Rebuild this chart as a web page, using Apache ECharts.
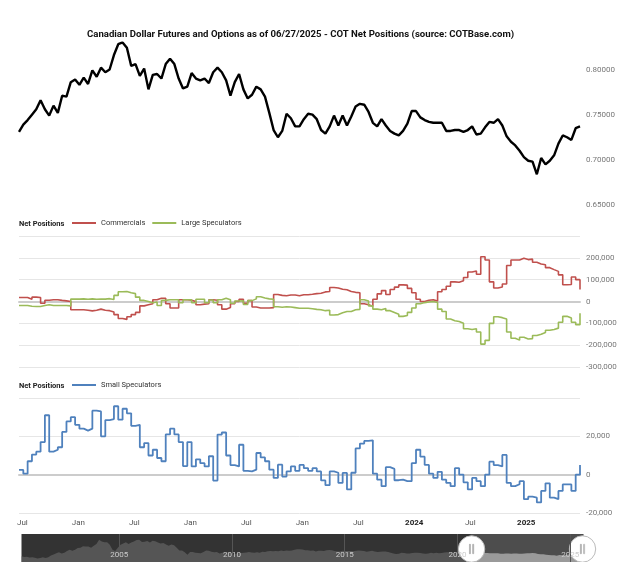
<!DOCTYPE html>
<html>
<head>
<meta charset="utf-8">
<script src="https://cdn.jsdelivr.net/npm/echarts@6/dist/echarts.min.js"></script>
<style>
  html, body { margin: 0; padding: 0; background: #fff; }
  #chart { width: 625px; height: 562px; }
</style>
</head>
<body>
<div id="chart"></div>
<script>
const FONT = '"Liberation Sans Narrow", Roboto, sans-serif';

// COT window (decimal years): first and last report shown
const startYear = 2020.47;
const endYear = 2025.48;
// navigator starts here
const navStart = 2000.55;

// quarterly CAD futures history for the navigator, from 2000.5
const historyStart = 2000.5;
const historyPrice = [
  0.675, 0.660, 0.665, 0.645, 0.655, 0.640, 0.628, 0.635, 0.655, 0.635,
  0.655, 0.690, 0.715, 0.740, 0.765, 0.735, 0.750, 0.790, 0.815, 0.795,
  0.815, 0.855, 0.860, 0.895, 0.890, 0.890, 0.860, 0.905, 0.945, 1.040,
  1.000, 0.985, 0.985, 0.930, 0.815, 0.790, 0.860, 0.930, 0.955, 0.985,
  0.945, 0.975, 1.000, 1.030, 1.040, 0.990, 0.995, 1.010, 0.975, 1.015,
  1.005, 0.975, 0.955, 0.965, 0.935, 0.905, 0.935, 0.915, 0.860, 0.800,
  0.800, 0.760, 0.710, 0.770, 0.770, 0.750, 0.745, 0.740, 0.770, 0.800,
  0.795, 0.775, 0.760, 0.770, 0.735, 0.750, 0.755, 0.755, 0.765, 0.710
];

// biweekly values, Jul 2020 .. 06/27/2025
const price = [
  0.731, 0.739, 0.744, 0.750, 0.756, 0.766, 0.756, 0.749, 0.760, 0.752,
  0.771, 0.770, 0.786, 0.789, 0.783, 0.791, 0.784, 0.799, 0.792, 0.802,
  0.797, 0.800, 0.816, 0.828, 0.830, 0.824, 0.804, 0.806, 0.793, 0.801,
  0.778, 0.794, 0.795, 0.790, 0.806, 0.812, 0.806, 0.790, 0.779, 0.781,
  0.796, 0.790, 0.788, 0.790, 0.785, 0.797, 0.802, 0.797, 0.788, 0.771,
  0.786, 0.795, 0.778, 0.768, 0.772, 0.781, 0.778, 0.770, 0.752, 0.733,
  0.725, 0.732, 0.751, 0.746, 0.737, 0.737, 0.745, 0.751, 0.750, 0.745,
  0.733, 0.729, 0.737, 0.749, 0.738, 0.749, 0.738, 0.748, 0.759, 0.762,
  0.761, 0.753, 0.741, 0.737, 0.745, 0.738, 0.732, 0.729, 0.727, 0.732,
  0.740, 0.754, 0.754, 0.747, 0.744, 0.742, 0.741, 0.741, 0.741, 0.732,
  0.732, 0.733, 0.733, 0.731, 0.733, 0.737, 0.728, 0.729, 0.736, 0.742,
  0.741, 0.745, 0.738, 0.726, 0.720, 0.716, 0.710, 0.703, 0.699, 0.698,
  0.684, 0.702, 0.695, 0.699, 0.705, 0.718, 0.727, 0.725, 0.722, 0.735,
  0.737
];

// net positions, thousands of contracts
const commercials = [
  18, 18, 10, 20, 18, -8, 6, 8, 8, 5,
  3, 0, -38, -38, -38, -40, -43, -40, -35, -40,
  -42, -48, -60, -78, -82, -70, -60, -50, -20, -15,
  -10, 8, 15, 15, -10, -30, -30, 8, 8, 6,
  0, -15, -12, -10, 8, 6, -15, -35, -28, -10,
  0, 10, -8, 4, -25, -30, -30, -30, -28, 32,
  28, 26, 30, 30, 26, 31, 31, 33, 36, 38,
  44, 46, 64, 62, 56, 54, 46, 42, 40, -10,
  -15, -22, 10, 35, 50, 32, 55, 66, 76, 75,
  60, 40, 10, 0, 6, 8, 2, 45, 55, 70,
  90, 88, 95, 110, 135, 140, 125, 205, 190, 90,
  62, 66, 80, 165, 190, 190, 198, 192, 194, 180,
  172, 168, 155, 146, 138, 122, 77, 78, 112, 100,
  55
];
const largeSpecs = [
  -18, -18, -22, -23, -23, -18, -15, -18, -18, -18,
  -18, -20, 11, 11, 12, 10, 12, 10, 11, 11,
  13, 9, 28, 45, 46, 40, 36, 20, 5, 0,
  -6, -2, -18, 5, 8, 8, 8, -6, 8, 8,
  -6, 10, 10, -6, 7, -6, 8, 15, 8, -8,
  2, 3, -14, 4, 12, 22, 16, 12, 10, -24,
  -26, -24, -25, -28, -31, -31, -31, -33, -36, -38,
  -42, -40, -62, -60, -52, -46, -46, -38, -36, 8,
  2, -20, -35, -38, -32, -42, -50, -58, -68, -64,
  -50, -30, -10, -5, -2, 0, -5, -35, -46, -80,
  -88, -92, -100, -125, -128, -125, -140, -195, -178, -100,
  -70, -74, -80, -140, -168, -177, -164, -172, -170, -156,
  -150, -142, -132, -128, -122, -95, -68, -76, -95, -106,
  -54
];
const smallSpecs = [
  2.5, 0.5, 7, 10.5, 12, 17, 31, 12, 13, 14.3,
  22.3, 27.8, 30, 26, 24, 23, 24, 33.4, 33, 20,
  28.5, 29, 35.7, 28.7, 34.4, 32, 25.5, 26, 14.3, 16.5,
  10, 13, 8.7, 7, 21, 24, 21, 17, 4.5, 17,
  4.3, 8, 6, 4.3, 9.6, -3.1, 20.9, 22, 10, 5,
  4.3, 15.6, 2, 1.7, 2.6, 11.3, 9, 7, 2.6, -1.7,
  5.2, -1, 1.7, 4.3, 2, 5.1, 3.4, 2, 3.4, 1.7,
  -3, -5.5, 1.7, 1, -4.3, 0.9, -7.7, 1, 13.7, 16.2,
  17.6, 17.9, 0.5, -2.6, -6, 3.9, 3, -2.9, -2.6, -3.4,
  -3.4, 6, 13, 9.4, 5.1, 0.5, -1.7, 1.5, -2.6, -4.3,
  -6, 3.4, 0, -4, -7.7, -1.7, -3.4, -6, 0, 6.8,
  5, 4.3, 10.3, -4.3, -6, -5, -3.4, -12.8, -11.5, -12,
  -14.5, -8.5, -4.5, -12, -12.8, -8.5, -5.1, -5.1, -8.5, 0,
  5.1
];

const tickValues = [2020.5, 2021, 2021.5, 2022, 2022.5, 2023, 2023.5, 2024, 2024.5, 2025];
const tickLabels = ['Jul', 'Jan', 'Jul', 'Jan', 'Jul', 'Jan', 'Jul', '2024', 'Jul', '2025'];
const navYears = [2005, 2010, 2015, 2020, 2025];

// report dates as decimal years
const reportX = price.map((_, i) => startYear + i * (endYear - startYear) / (price.length - 1));
const pair = arr => arr.map((v, i) => [reportX[i], v]);
const priceData = historyPrice.map((v, i) => [historyStart + i * 0.25, v]).concat(pair(price));

const thousands = v => v === 0 ? '0' : (v * 1000).toLocaleString('en-US');
const yLabel = { color: '#777', fontSize: 8, fontFamily: FONT, margin: 6, showMaxLabel: false };
const gridLine = { show: true, lineStyle: { color: '#e6e6e6', width: 1 } };
const zeroLine = { show: true, onZero: true, lineStyle: { color: '#ccc', width: 2 } };
const legendText = { fontFamily: FONT, fontSize: 7.5, color: '#333' };
const subTitle = { fontFamily: FONT, fontSize: 7.5, fontWeight: 'bold', color: '#222' };

const chart = echarts.init(document.getElementById('chart'));
const option = {
  animation: false,
  backgroundColor: '#fff',
  title: [
    {
      text: 'Canadian Dollar Futures and Options as of 06/27/2025 - COT Net Positions (source: COTBase.com)',
      left: 87, top: 30, padding: 0,
      textStyle: { fontFamily: FONT, fontSize: 9.6, fontWeight: 'bold', color: '#111' }
    },
    { text: 'Net Positions', left: 19, top: 220, padding: 0, textStyle: subTitle },
    { text: 'Net Positions', left: 19, top: 382, padding: 0, textStyle: subTitle }
  ],
  legend: [
    { left: 72, top: 219, padding: 0, icon: 'rect', itemWidth: 24, itemHeight: 2, itemGap: 7,
      data: ['Commercials', 'Large Speculators'], textStyle: legendText },
    { left: 72, top: 381, padding: 0, icon: 'rect', itemWidth: 24, itemHeight: 2,
      data: ['Small Speculators'], textStyle: legendText }
  ],
  grid: [
    { left: 19, right: 45, top: 42.4, height: 162.6 },
    { left: 19, right: 45, top: 236, height: 131 },
    { left: 19, right: 45, top: 398, height: 115 },
    { left: 19, right: 44, top: 534, height: 30 }
  ],
  xAxis: [
    { type: 'value', gridIndex: 0, min: navStart, max: endYear, show: false },
    { type: 'value', gridIndex: 1, min: navStart, max: endYear,
      axisLine: zeroLine, axisTick: { show: false }, axisLabel: { show: false }, splitLine: { show: false } },
    { type: 'value', gridIndex: 2, min: navStart, max: endYear,
      axisLine: { show: false, onZero: false }, axisTick: { show: false, customValues: tickValues },
      splitLine: { show: false },
      axisLabel: {
        customValues: tickValues, margin: 6, fontSize: 8, fontFamily: FONT, color: '#555',
        formatter: v => {
          const t = tickLabels[tickValues.findIndex(x => Math.abs(x - v) < 1e-6)] || '';
          return /^\d{4}$/.test(t) ? '{b|' + t + '}' : t;
        },
        rich: { b: { fontWeight: 'bold', color: '#222', fontSize: 8, fontFamily: FONT } }
      } },
    // zero line of the small speculators panel
    { type: 'value', gridIndex: 2, min: navStart, max: endYear,
      axisLine: zeroLine, axisTick: { show: false }, axisLabel: { show: false }, splitLine: { show: false } },
    // navigator year marks
    { type: 'value', gridIndex: 3, min: navStart, max: endYear, z: 10,
      axisLine: { show: false }, axisTick: { show: false, customValues: navYears },
      axisLabel: { customValues: navYears, inside: true, margin: 3, color: '#ccc', fontSize: 8,
        fontFamily: FONT, formatter: v => String(v) },
      splitLine: { show: true, lineStyle: { color: '#555', width: 1 } } }
  ],
  yAxis: [
    { type: 'value', gridIndex: 0, position: 'right', min: 0.65, max: 0.83, interval: 0.05,
      splitLine: { show: false }, axisLine: { show: false }, axisTick: { show: false },
      axisLabel: Object.assign({ formatter: v => v.toFixed(5) }, yLabel) },
    { type: 'value', gridIndex: 1, position: 'right', min: -300, max: 300, interval: 100,
      splitLine: gridLine, axisLine: { show: false }, axisTick: { show: false },
      axisLabel: Object.assign({ formatter: thousands }, yLabel) },
    { type: 'value', gridIndex: 2, position: 'right', min: -20, max: 40, interval: 20,
      splitLine: gridLine, axisLine: { show: false }, axisTick: { show: false },
      axisLabel: Object.assign({ formatter: thousands }, yLabel) },
    { type: 'value', gridIndex: 3, min: 0, max: 1, show: false }
  ],
  dataZoom: [{
    type: 'slider', xAxisIndex: [0, 1, 2], startValue: startYear, endValue: endYear,
    filterMode: 'filter', left: 19, right: 44, top: 534, height: 30,
    backgroundColor: '#333', borderColor: 'transparent', borderRadius: 0,
    fillerColor: 'rgba(255,255,255,0.13)',
    dataBackground: { lineStyle: { opacity: 0 }, areaStyle: { color: '#555', opacity: 1 } },
    selectedDataBackground: { lineStyle: { opacity: 0 }, areaStyle: { color: '#8c8c8c', opacity: 1 } },
    handleIcon: 'path://M512,0A512,512,0,1,1,512,1024A512,512,0,1,1,512,0Z M430,330L430,694L465,694L465,330Z M559,330L559,694L594,694L594,330Z',
    handleSize: '88%',
    handleStyle: { color: '#fff', borderColor: '#bbb', borderWidth: 1 },
    moveHandleSize: 0, showDetail: false, brushSelect: false, showDataShadow: true
  }],
  series: [
    { name: 'Price', type: 'line', xAxisIndex: 0, yAxisIndex: 0, data: priceData,
      showSymbol: false, lineStyle: { color: '#000', width: 2.4 }, itemStyle: { color: '#000' } },
    { name: 'Commercials', type: 'line', xAxisIndex: 1, yAxisIndex: 1, data: pair(commercials),
      step: 'end', showSymbol: false, color: '#c0504d', lineStyle: { width: 1.6 } },
    { name: 'Large Speculators', type: 'line', xAxisIndex: 1, yAxisIndex: 1, data: pair(largeSpecs),
      step: 'end', showSymbol: false, color: '#9bbb59', lineStyle: { width: 1.6 } },
    { name: 'Small Speculators', type: 'line', xAxisIndex: 2, yAxisIndex: 2, data: pair(smallSpecs),
      step: 'end', showSymbol: false, color: '#4f81bd', lineStyle: { width: 1.8 } }
  ]
};
chart.setOption(option);
</script>
</body>
</html>
